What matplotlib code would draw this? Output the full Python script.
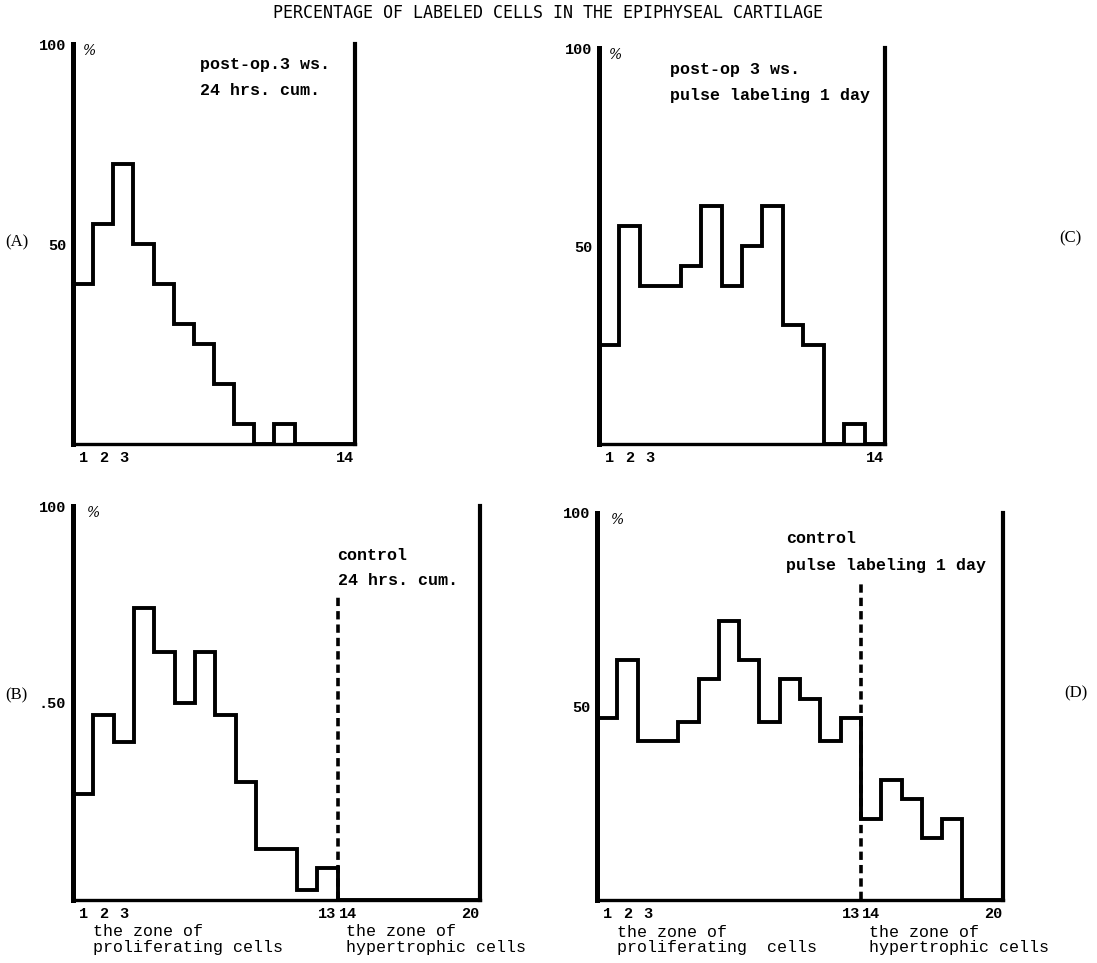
import numpy as np
import matplotlib.pyplot as plt

# percentage of labeled cells per cell layer
layers_a = np.arange(1, 15)
vals_a = [40, 55, 70, 50, 40, 30, 25, 15, 5, 0, 5, 0, 0, 0]      # post-op 3 ws, 24 hrs cum.
layers_c = np.arange(1, 15)
vals_c = [25, 55, 40, 40, 45, 60, 40, 50, 60, 30, 25, 0, 5, 0]   # post-op 3 ws, pulse 1 day
layers_b = np.arange(1, 21)
vals_b = [27, 47, 40, 74, 63, 50, 63, 47, 30, 13, 13, 2.5, 8, 0, 0, 0, 0, 0, 0, 0]  # control, 24 hrs cum.
layers_d = np.arange(1, 21)
vals_d = [47, 62, 41, 41, 46, 57, 72, 62, 46, 57, 52, 41, 47, 21, 31, 26, 16, 21, 0, 0]  # control, pulse 1 day

ticks_short = ["1", "2", "3", "14"]
ticks_long = ["1", "2", "3", "13", "14", "20"]

W, H = 1097, 963
MONO = "Liberation Mono"
fig = plt.figure(figsize=(W / 100, H / 100), dpi=100)


def rect(l, r, b, t):
    return [l / W, 1 - b / H, (r - l) / W, (b - t) / H]


def panel(box, layers, vals, tick_lbls, fifty="50"):
    ax = fig.add_axes(rect(*box))
    n = len(layers)
    edges = np.append(layers - 1, n)
    ax.stairs(vals, edges, baseline=0, color="black", lw=2.8, joinstyle="miter")
    ax.set_xlim(0, n)
    ax.set_ylim(0, 100)
    ax.spines["top"].set_visible(False)
    ax.spines["left"].set_linewidth(3.6)
    ax.spines["right"].set_linewidth(3.0)
    ax.spines["bottom"].set_linewidth(2.4)
    ax.set_xticks([int(t) - 0.5 for t in tick_lbls])
    ax.set_xticklabels(tick_lbls, fontfamily=MONO, fontsize=11, fontweight="bold")
    ax.set_yticks([50, 100])
    ax.set_yticklabels([fifty, "100"], fontfamily=MONO, fontsize=11, fontweight="bold")
    ax.tick_params(length=0, pad=5)
    ax.text(0.035, 1.0, "%", transform=ax.transAxes, va="top", ha="left",
            fontsize=10, style="italic", fontfamily="DejaVu Serif")
    return ax


txt = dict(fontfamily=MONO, fontsize=12, fontweight="bold", va="center", ha="left")
zone = dict(fontfamily=MONO, fontsize=12, va="top", ha="left", linespacing=1.05)

# (A)
ax = panel((73, 355, 444, 44), layers_a, vals_a, ticks_short)
ax.text(6.3, 95, "post-op.3 ws.", **txt)
ax.text(6.3, 88.5, "24 hrs. cum.", **txt)

# (C)
ax = panel((599, 885, 444, 48), layers_c, vals_c, ticks_short)
ax.text(3.5, 94.5, "post-op 3 ws.", **txt)
ax.text(3.5, 88, "pulse labeling 1 day", **txt)

# (B)
ax = panel((73, 480, 900, 506), layers_b, vals_b, ticks_long, fifty=".50")
ax.plot([13, 13], [0, 78], color="black", lw=2.6, dashes=(2.3, 1.4))
ax.text(13.0, 87.5, "control", **txt)
ax.text(13.0, 81, "24 hrs. cum.", **txt)
ax.text(1.0, -0.062, "the zone of\nproliferating cells", transform=ax.get_xaxis_transform(), **zone)
ax.text(13.4, -0.062, "the zone of\nhypertrophic cells", transform=ax.get_xaxis_transform(), **zone)

# (D)
ax = panel((597, 1003, 900, 513), layers_d, vals_d, ticks_long)
ax.plot([13, 13], [0, 82], color="black", lw=2.6, dashes=(2.3, 1.4))
ax.text(9.3, 93.5, "control", **txt)
ax.text(9.3, 86.5, "pulse labeling 1 day", **txt)
ax.text(1.0, -0.064, "the zone of\nproliferating  cells", transform=ax.get_xaxis_transform(), **zone)
ax.text(13.4, -0.064, "the zone of\nhypertrophic cells", transform=ax.get_xaxis_transform(), **zone)

fig.text(548 / W, 1 - 13 / H, "PERCENTAGE OF LABELED CELLS IN THE EPIPHYSEAL CARTILAGE",
         ha="center", va="center", fontfamily="DejaVu Sans Mono", fontsize=12)

for lbl, x, y in [("(A)", 17, 242), ("(C)", 1070, 238), ("(B)", 16, 695), ("(D)", 1076, 693)]:
    fig.text(x / W, 1 - y / H, lbl, ha="center", va="center",
             fontfamily="Liberation Serif", fontsize=12)

fig.savefig("out.png", dpi=100)
